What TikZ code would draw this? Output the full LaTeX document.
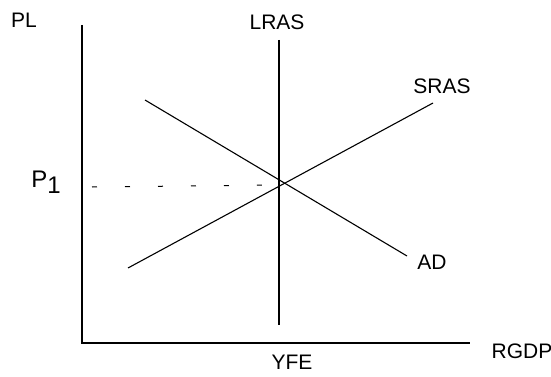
\documentclass[tikz,border=0pt]{standalone}
\usepackage{fontspec}
\setmainfont{Liberation Sans}
\begin{document}
\begin{tikzpicture}[x=1pt,y=-1pt,every node/.style={font=\fontsize{21}{23}\selectfont,align=center,inner sep=1pt},curve/.style={line width=1.1pt,draw=black},axis/.style={line width=1.2pt,draw=black}]
\useasboundingbox (0,0) rectangle (551,377);
% axes
\coordinate (origin) at (82,343);
\coordinate (ytop) at (82,25);
\coordinate (xend) at (470,343);
\draw[axis] (ytop)--(origin)--(xend);
\node (pl) at (24,20) {PL};
\node (rgdp) at (522,351) {RGDP};
% curves
\coordinate (lrastop) at (279,40);
\coordinate (lrasbot) at (279,325);
\coordinate (srasbot) at (128,268);
\coordinate (srastop) at (433,103);
\coordinate (adtop) at (145,100);
\coordinate (adbot) at (407,256);
\draw[curve] (lrastop)--(lrasbot);
\draw[curve] (srasbot)--(srastop);
\draw[curve] (adtop)--(adbot);
\node (lras) at (277,22) {LRAS};
\node (sras) at (442,86) {SRAS};
\node (ad) at (432,262) {AD};
\node (yfe) at (292,362) {YFE};
% price level
\coordinate (eq) at (279,185);
\coordinate (p1start) at (92,187);
\draw[line width=1pt,dash pattern=on 5pt off 28pt] (p1start)--(eq);
\node (p1) at (46,182) {\fontsize{24}{26}\selectfont P\raisebox{-6pt}{1}};
\end{tikzpicture}
\end{document}
